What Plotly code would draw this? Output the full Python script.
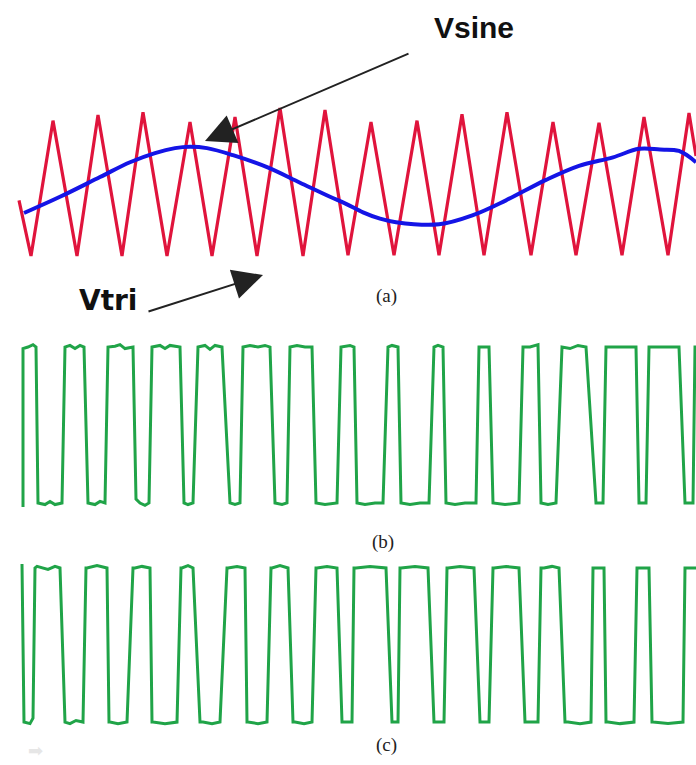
import plotly.graph_objects as go

# ---------------- data ----------------
# (a) carrier triangle Vtri and reference Vsine (time in samples, normalised volts)
tri_t = [19, 31, 53, 77, 98, 122, 143, 167, 190, 212, 235, 257, 280, 303, 325, 348,
         371, 394, 417, 439, 462, 484, 507, 531, 553, 576, 599, 622, 644, 668, 689, 696]
tri_v = [-0.21, -1.0, 0.92, -1.0, 1.0, -1.0, 1.04, -1.0, 0.90, -1.0, 0.97, -1.0, 1.10, -1.0,
         1.07, -0.99, 0.90, -0.99, 0.92, -0.99, 1.01, -0.99, 1.04, -0.99, 0.90, -0.99, 0.89,
         -0.99, 0.97, -0.99, 1.03, 0.42]

sine_t = [24, 60, 100, 130, 155, 175, 190, 207, 233, 267, 300, 330, 346, 363, 380, 396, 439,
          473, 506, 546, 579, 613, 639, 660, 679, 696]
sine_v = [-0.39, -0.16, 0.12, 0.33, 0.46, 0.53, 0.55, 0.53, 0.43, 0.26, 0.04, -0.16, -0.26,
          -0.38, -0.47, -0.52, -0.55, -0.42, -0.21, 0.08, 0.28, 0.40, 0.52, 0.51, 0.49, 0.33]

# (b) PWM output, leg 1
pwm_b_t = [23, 23, 28, 33, 36, 38, 45, 50, 55, 62, 65, 70, 75, 80, 84, 88, 95, 100, 105, 108,
           115, 120, 125, 133, 136, 140, 145, 149, 152, 160, 165, 170, 180, 184, 188, 193, 198,
           205, 210, 215, 222, 230, 235, 240, 243, 250, 258, 265, 270, 275, 282, 287, 290, 297,
           305, 312, 316, 325, 337, 341, 350, 354, 357, 365, 375, 383, 388, 392, 398, 401, 410,
           420, 429, 434, 438, 443, 446, 455, 465, 476, 479, 485, 489, 493, 505, 519, 523, 530,
           538, 541, 548, 556, 562, 570, 578, 586, 596, 603, 606, 620, 636, 639, 646, 649, 665,
           679, 685, 693, 695, 696]
pwm_b_v = [-1.05, 0.98, 1.0, 1.03, 1.0, -1.0, -1.02, -0.98, -1.02, -1.0, 1.0, 1.02, 0.98, 1.02,
           1.0, -1.0, -1.02, -0.98, -1.0, 1.0, 1.01, 1.03, 0.98, 1.0, -0.95, -1.0, -1.03, -1.0,
           1.0, 1.02, 0.98, 1.02, 1.0, -1.0, -1.02, -1.0, 1.0, 1.02, 0.97, 1.02, 1.0, -1.0, -1.02,
           -1.0, 1.0, 1.02, 1.0, 1.02, 1.0, -1.0, -1.02, -1.0, 1.0, 1.02, 1.0, 1.0, -1.0, -1.02,
           -1.0, 1.0, 1.02, 1.0, -1.0, -1.02, -1.0, -1.0, 1.0, 1.02, 1.0, -1.0, -1.02, -1.0, -1.0,
           1.0, 1.02, 1.0, -1.0, -1.02, -1.0, -1.0, 1.0, 1.0, 1.0, -1.0, -1.02, -1.0, 1.0, 1.0,
           1.03, -1.0, -1.02, -1.0, 1.0, 0.98, 1.02, 1.0, -1.0, -1.0, 1.0, 1.0, 1.0, -1.0, -1.0,
           1.0, 1.0, 1.0, -1.0, -1.0, 1.0, 1.0]

# (c) PWM output, leg 2
pwm_c_t = [22, 24, 30, 33, 35, 37, 48, 55, 60, 65, 70, 76, 83, 86, 87, 97, 107, 109, 110, 118,
           127, 133, 135, 142, 150, 152, 153, 165, 177, 181, 182, 188, 193, 200, 203, 212, 220,
           227, 228, 237, 245, 247, 248, 258, 267, 271, 272, 280, 288, 293, 295, 304, 312, 316,
           317, 327, 337, 342, 347, 352, 354, 356, 370, 386, 392, 395, 398, 400, 401, 415, 428,
           434, 436, 444, 447, 448, 460, 474, 480, 481, 489, 493, 494, 506, 519, 525, 526, 538,
           541, 544, 552, 559, 565, 568, 580, 591, 593, 594, 604, 606, 608, 620, 634, 637, 638,
           649, 652, 653, 668, 683, 685, 688, 696]
pwm_c_v = [1.05, -1.0, -1.02, -0.95, 1.0, 1.02, 0.98, 1.02, 1.0, -1.0, -1.02, -0.98, -1.0, 1.0,
           1.0, 1.03, 1.0, -1.0, -1.0, -1.02, -1.0, 1.0, 1.0, 1.02, 1.0, -1.0, -1.0, -1.02, -1.0,
           1.0, 1.0, 1.03, 1.0, -1.0, -1.0, -1.02, -1.0, 1.0, 1.0, 1.02, 1.0, -1.0, -1.0, -1.02,
           -1.0, 1.0, 1.0, 1.03, 1.0, -1.0, -1.0, -1.02, -1.0, 1.0, 1.0, 1.02, 1.0, -1.0, -1.0,
           -1.0, 1.0, 1.0, 1.02, 1.0, -1.0, -1.0, -1.0, 1.0, 1.0, 1.02, 1.0, -1.0, -1.0, -1.0, 1.0,
           1.0, 1.02, 1.0, -1.0, -1.0, -1.0, 1.0, 1.0, 1.02, 1.0, -1.0, -1.0, -1.0, 1.0, 1.0, 1.02,
           1.0, -1.0, -1.0, -1.02, -1.0, 1.0, 1.0, 1.0, -1.0, -1.0, -1.02, -1.0, 1.0, 1.0, 1.0,
           -1.0, -1.0, -1.02, -1.0, 1.0, 1.0, 1.0]

panel_labels = ["(a)", "(b)", "(c)"]

# ---------------- figure ----------------
RED = "#e0143c"
BLUE = "#1414e6"
GREEN = "#20a448"

fig = go.Figure()
fig.add_trace(go.Scatter(x=tri_t, y=tri_v, mode="lines", line=dict(color=RED, width=3.2),
                         xaxis="x", yaxis="y", hoverinfo="skip"))
fig.add_trace(go.Scatter(x=sine_t, y=sine_v, mode="lines", line=dict(color=BLUE, width=4, shape="spline"),
                         xaxis="x", yaxis="y", hoverinfo="skip"))
fig.add_trace(go.Scatter(x=pwm_b_t, y=pwm_b_v, mode="lines", line=dict(color=GREEN, width=3),
                         xaxis="x2", yaxis="y2", hoverinfo="skip"))
fig.add_trace(go.Scatter(x=pwm_c_t, y=pwm_c_v, mode="lines", line=dict(color=GREEN, width=3),
                         xaxis="x3", yaxis="y3", hoverinfo="skip"))

ax_common = dict(range=[0, 696], visible=False, fixedrange=True)
fig.update_layout(
    width=696, height=765,
    margin=dict(l=0, r=0, t=0, b=0),
    paper_bgcolor="white", plot_bgcolor="rgba(0,0,0,0)",
    showlegend=False,
    xaxis=dict(**ax_common, anchor="y"),
    xaxis2=dict(**ax_common, anchor="y2"),
    xaxis3=dict(**ax_common, anchor="y3"),
    yaxis=dict(range=[-1.2, 1.2], domain=[0.6469, 0.8681], visible=False, anchor="x", fixedrange=True),
    yaxis2=dict(range=[-1.15, 1.15], domain=[0.3272, 0.5617], visible=False, anchor="x2", fixedrange=True),
    yaxis3=dict(range=[-1.15, 1.15], domain=[0.0410, 0.2727], visible=False, anchor="x3", fixedrange=True),
)

def px(x, y):
    return x / 696.0, 1 - y / 765.0

ann = []
# panel labels
for lab, (lx, ly) in zip(panel_labels, [(386, 296), (383, 542), (386, 745)]):
    x, y = px(lx, ly)
    ann.append(dict(x=x, y=y, xref="paper", yref="paper", text=lab, showarrow=False,
                    xanchor="center", yanchor="middle",
                    font=dict(family="Liberation Serif, Times New Roman, serif", size=19, color="#222")))
# names
x, y = px(474, 28)
ann.append(dict(x=x, y=y, xref="paper", yref="paper", text="<b>Vsine</b>", showarrow=False,
                xanchor="center", yanchor="middle",
                font=dict(family="Liberation Sans, Arial, sans-serif", size=30, color="#111")))
x, y = px(108, 301)
ann.append(dict(x=x, y=y, xref="paper", yref="paper", text="<b>Vtri</b>", showarrow=False,
                xanchor="center", yanchor="middle",
                font=dict(family="DejaVu Sans, Verdana, sans-serif", size=28, color="#111")))
# arrows
x, y = px(205, 141)
ann.append(dict(x=x, y=y, xref="paper", yref="paper", text="", showarrow=True,
                ax=205, ay=-88, axref="pixel", ayref="pixel",
                arrowhead=2, arrowsize=3, arrowwidth=2, arrowcolor="#222"))
x, y = px(263, 275)
ann.append(dict(x=x, y=y, xref="paper", yref="paper", text="", showarrow=True,
                ax=-116, ay=37, axref="pixel", ayref="pixel",
                arrowhead=2, arrowsize=3, arrowwidth=2, arrowcolor="#222"))
# faint icon
x, y = px(35, 750)
ann.append(dict(x=x, y=y, xref="paper", yref="paper", text="➡", showarrow=False,
                xanchor="center", yanchor="middle",
                font=dict(family="DejaVu Sans", size=18, color="#e6e6e6")))
fig.update_layout(annotations=ann)

fig.write_html("out.html", config={"displayModeBar": False, "staticPlot": True},
               post_script="document.body.style.margin='0';document.body.style.overflow='hidden';")
